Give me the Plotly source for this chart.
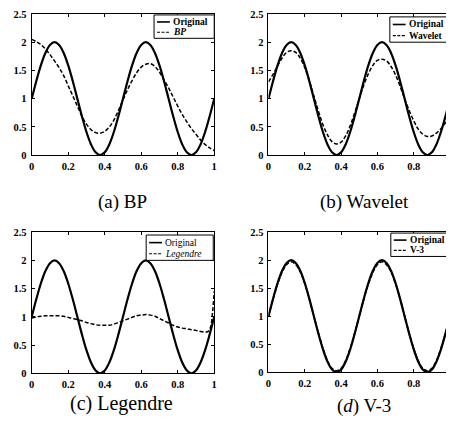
import plotly.graph_objects as go

# ---------------- data ----------------
x_grid = [0, 0.025, 0.05, 0.075, 0.1, 0.125, 0.15, 0.175, 0.2, 0.225, 0.25,
          0.275, 0.3, 0.325, 0.35, 0.375, 0.4, 0.425, 0.45, 0.475, 0.5,
          0.525, 0.55, 0.575, 0.6, 0.625, 0.65, 0.675, 0.7, 0.725, 0.75,
          0.775, 0.8, 0.825, 0.85, 0.875, 0.9, 0.925, 0.95, 0.975, 1.0]

original = [1.00, 1.31, 1.59, 1.81, 1.95, 2.00, 1.95, 1.81, 1.59, 1.31, 1.00,
            0.69, 0.41, 0.19, 0.05, 0.00, 0.05, 0.19, 0.41, 0.69, 1.00,
            1.31, 1.59, 1.81, 1.95, 2.00, 1.95, 1.81, 1.59, 1.31, 1.00,
            0.69, 0.41, 0.19, 0.05, 0.00, 0.05, 0.19, 0.41, 0.69, 1.00]

bp = [2.05, 2.01, 1.96, 1.88, 1.78, 1.67, 1.55, 1.41, 1.23, 1.05, 0.87,
      0.69, 0.55, 0.45, 0.40, 0.39, 0.42, 0.50, 0.62, 0.79, 0.98,
      1.16, 1.32, 1.46, 1.56, 1.61, 1.62, 1.57, 1.47, 1.33, 1.19,
      1.03, 0.87, 0.72, 0.59, 0.47, 0.37, 0.27, 0.19, 0.13, 0.08]

wavelet = [1.30, 1.43, 1.58, 1.72, 1.82, 1.85, 1.82, 1.72, 1.55, 1.32, 1.05,
           0.78, 0.54, 0.36, 0.24, 0.20, 0.23, 0.34, 0.52, 0.75, 1.00,
           1.24, 1.44, 1.59, 1.68, 1.70, 1.67, 1.57, 1.42, 1.22, 1.00,
           0.79, 0.61, 0.46, 0.37, 0.33, 0.34, 0.39, 0.47, 0.57, 0.68]

x_leg = [0, 0.025, 0.05, 0.075, 0.1, 0.125, 0.15, 0.175, 0.2, 0.225, 0.25,
         0.275, 0.3, 0.325, 0.35, 0.375, 0.4, 0.425, 0.45, 0.475, 0.5,
         0.525, 0.55, 0.575, 0.6, 0.625, 0.65, 0.675, 0.7, 0.725, 0.75,
         0.775, 0.8, 0.825, 0.85, 0.875, 0.9, 0.925, 0.95, 0.965, 0.98, 0.99, 1.0]
legendre = [0.98, 1.00, 1.01, 1.02, 1.02, 1.02, 1.02, 1.01, 0.99, 0.97, 0.95,
            0.93, 0.90, 0.88, 0.86, 0.85, 0.85, 0.85, 0.87, 0.90, 0.93,
            0.96, 0.99, 1.02, 1.03, 1.04, 1.03, 1.01, 0.97, 0.93, 0.89,
            0.85, 0.82, 0.80, 0.79, 0.77, 0.76, 0.74, 0.73, 0.74, 0.82, 1.05, 1.45]

v3 = [1.00, 1.30, 1.57, 1.78, 1.92, 1.97, 1.92, 1.79, 1.58, 1.31, 1.00,
      0.70, 0.43, 0.21, 0.07, 0.03, 0.07, 0.21, 0.43, 0.70, 1.00,
      1.30, 1.57, 1.78, 1.92, 1.97, 1.92, 1.79, 1.58, 1.31, 1.00,
      0.70, 0.43, 0.21, 0.07, 0.03, 0.07, 0.21, 0.43, 0.70, 1.00]

x_ticks = [0, 0.2, 0.4, 0.6, 0.8, 1]
x_tick_labels = ["0", "0.2", "0.4", "0.6", "0.8", "1"]
y_ticks = [0, 0.5, 1, 1.5, 2, 2.5]
y_tick_labels = ["0", "0.5", "1", "1.5", "2", "2.5"]

panel_names = ["BP", "Wavelet", "Legendre", "V-3"]
captions = ["(a) BP", "(b) Wavelet", "(c) Legendre", "(<i>d</i>) V-3"]
legend_labels = ["<b><i>BP</i></b>", "<b>Wavelet</b>", "<i>Legendre</i>", "<b>V-3</b>"]
orig_labels = ["<b>Original</b>", "<b>Original</b>", "Original", "<b>Original</b>"]

# ---------------- layout geometry (screen pixels) ----------------
OFF = 8                      # page body margin
W, H = 446, 420              # figure size
SERIF = "Liberation Serif, Times New Roman, Times, DejaVu Serif, serif"

# plot boxes: (left, right, top, bottom) in screen pixels
boxes = [(29, 214, 9, 154), (269, 453, 9, 154),
         (29, 214, 233, 378), (269, 453, 233, 377)]
caption_pos = [(121, 202), (366, 202), (120, 409), (366, 412)]
caption_sizes = [19, 19, 20, 19]
# legend boxes: (left, right, top, bottom)
leg_boxes = [(153, 214, 10, 34), (392, 456, 12, 38),
             (145, 213, 236, 262), (393, 456, 234, 258)]

px = lambda v: (v - OFF) / W
py = lambda v: 1 - (v - OFF) / H

fig = go.Figure()

series_sets = [(x_grid, bp), (x_grid, wavelet), (x_leg, legendre), (x_grid, v3)]

for i in range(4):
    xa = "x" if i == 0 else f"x{i+1}"
    ya = "y" if i == 0 else f"y{i+1}"
    xs, ys = series_sets[i]
    fig.add_trace(go.Scatter(x=x_grid, y=original, mode="lines",
                             line=dict(color="black", width=2.2, shape="spline"),
                             xaxis=xa, yaxis=ya, showlegend=False,
                             name="Original"))
    fig.add_trace(go.Scatter(x=xs, y=ys, mode="lines",
                             line=dict(color="black", width=1.5, dash="4px,2px",
                                       shape="spline"),
                             xaxis=xa, yaxis=ya, showlegend=False,
                             name=panel_names[i]))

    l, r, t, b = boxes[i]
    axis_common = dict(showline=True, linecolor="black", linewidth=1,
                       mirror="allticks", ticks="inside", ticklen=3,
                       tickcolor="black", showgrid=False, zeroline=False,
                       tickfont=dict(family=SERIF, size=10.5, color="black",
                                     weight="bold"))
    xkey = "xaxis" if i == 0 else f"xaxis{i+1}"
    ykey = "yaxis" if i == 0 else f"yaxis{i+1}"
    fig.layout[xkey] = dict(domain=[px(l), min(px(r), 1)], range=[0, 1],
                            tickvals=x_ticks, ticktext=x_tick_labels,
                            anchor=ya, ticklabelstandoff=1, **axis_common)
    fig.layout[ykey] = dict(domain=[py(b), py(t)], range=[0, 2.5],
                            tickvals=y_ticks, ticktext=y_tick_labels,
                            anchor=xa, ticklabelstandoff=2, **axis_common)

    # caption
    cx, cy = caption_pos[i]
    fig.add_annotation(x=px(cx), y=py(cy), xref="paper", yref="paper",
                       text=captions[i], showarrow=False,
                       font=dict(family=SERIF, size=caption_sizes[i], color="black"),
                       xanchor="center", yanchor="middle")

    # legend box
    ll, lr, lt, lb = leg_boxes[i]
    fig.add_shape(type="rect", xref="paper", yref="paper",
                  x0=px(ll), x1=px(lr), y0=py(lb), y1=py(lt),
                  line=dict(color="black", width=1), fillcolor="white")
    row1 = lt + (lb - lt) * 0.30
    row2 = lt + (lb - lt) * 0.74
    s0, s1 = ll + 3, ll + 16
    fig.add_shape(type="line", xref="paper", yref="paper",
                  x0=px(s0), x1=px(s1), y0=py(row1), y1=py(row1),
                  line=dict(color="black", width=1.6))
    fig.add_shape(type="line", xref="paper", yref="paper",
                  x0=px(s0), x1=px(s1), y0=py(row2), y1=py(row2),
                  line=dict(color="black", width=1.2, dash="3px,1.5px"))
    fig.add_annotation(x=px(s1 + 1), y=py(row1), xref="paper", yref="paper",
                       text=orig_labels[i], showarrow=False,
                       font=dict(family=SERIF, size=9.5, color="black"),
                       xanchor="left", yanchor="middle")
    fig.add_annotation(x=px(s1 + 1), y=py(row2), xref="paper", yref="paper",
                       text=legend_labels[i], showarrow=False,
                       font=dict(family=SERIF, size=9.5, color="black"),
                       xanchor="left", yanchor="middle")

fig.update_layout(width=W, height=H, margin=dict(l=0, r=0, t=0, b=0),
                  paper_bgcolor="white", plot_bgcolor="white",
                  showlegend=False)

fig.write_html("out.html")
